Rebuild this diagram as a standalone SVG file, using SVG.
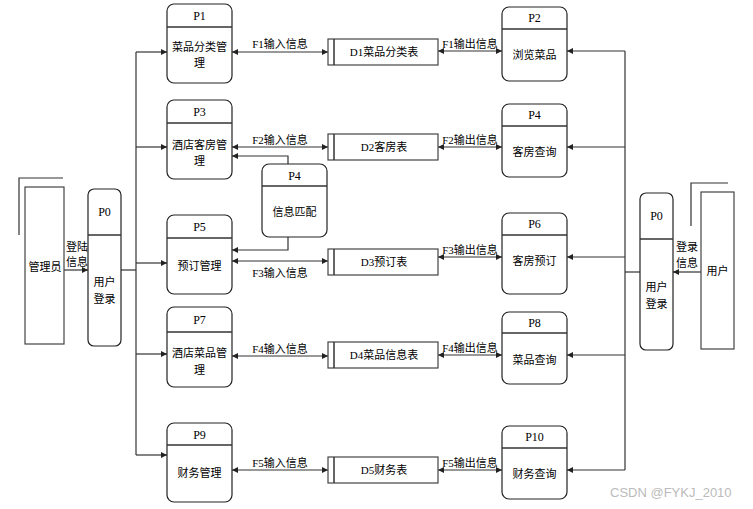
<svg xmlns="http://www.w3.org/2000/svg" width="753" height="509" viewBox="0 0 753 509">
<style>
.bg{fill:#fff}
.proc{fill:#fff;stroke:#222;stroke-width:1.2}
.div{stroke:#333;stroke-width:1.5}
.store{fill:#fff;stroke:#444;stroke-width:1.2}
.ent{fill:#fff;stroke:#444;stroke-width:1.2}
.ln{fill:none;stroke:#333;stroke-width:1.2}
.t{font-family:"Liberation Serif","Noto Sans CJK SC",serif;font-size:11px;fill:#000;text-anchor:middle}
.h{font-family:"Liberation Serif","Noto Sans CJK SC",serif;font-size:12px;fill:#000;text-anchor:middle}
.wm{font-family:"Liberation Sans","Noto Sans",sans-serif;font-size:13px;fill:#bbb}
</style>
<defs>
<marker id="a" viewBox="0 0 6 6" refX="6" refY="3" markerWidth="6" markerHeight="6" markerUnits="userSpaceOnUse" orient="auto-start-reverse"><path d="M0,0 L6,3 L0,6 Z" fill="#222"/></marker>
</defs>
<rect class="bg" width="753" height="509"/>
<g id="connectors">
<line class="ln" x1="64" y1="270" x2="88" y2="270" marker-end="url(#a)"/>
<text class="t" x="77" y="251">登陆</text>
<text class="t" x="77" y="266">信息</text>
<line class="ln" x1="121" y1="270" x2="136" y2="270"/>
<line class="ln" x1="136" y1="52" x2="136" y2="455"/>
<line class="ln" x1="136" y1="52" x2="167" y2="52" marker-end="url(#a)"/>
<line class="ln" x1="136" y1="147" x2="167" y2="147" marker-end="url(#a)"/>
<line class="ln" x1="136" y1="263" x2="167" y2="263" marker-end="url(#a)"/>
<line class="ln" x1="136" y1="354" x2="167" y2="354" marker-end="url(#a)"/>
<line class="ln" x1="136" y1="455" x2="167" y2="455" marker-end="url(#a)"/>
<line class="ln" x1="232" y1="52" x2="328" y2="52" marker-start="url(#a)" marker-end="url(#a)"/>
<line class="ln" x1="232" y1="147" x2="328" y2="147" marker-start="url(#a)" marker-end="url(#a)"/>
<line class="ln" x1="232" y1="261" x2="328" y2="261" marker-start="url(#a)" marker-end="url(#a)"/>
<line class="ln" x1="232" y1="356" x2="328" y2="356" marker-start="url(#a)" marker-end="url(#a)"/>
<line class="ln" x1="232" y1="470" x2="328" y2="470" marker-start="url(#a)" marker-end="url(#a)"/>
<text class="t" x="280" y="48">F1输入信息</text>
<text class="t" x="280" y="144">F2输入信息</text>
<text class="t" x="280" y="277">F3输入信息</text>
<text class="t" x="280" y="353">F4输入信息</text>
<text class="t" x="280" y="467">F5输入信息</text>
<line class="ln" x1="438" y1="51" x2="502" y2="51" marker-start="url(#a)" marker-end="url(#a)"/>
<line class="ln" x1="438" y1="147" x2="502" y2="147" marker-start="url(#a)" marker-end="url(#a)"/>
<line class="ln" x1="438" y1="257" x2="502" y2="257" marker-start="url(#a)" marker-end="url(#a)"/>
<line class="ln" x1="438" y1="355" x2="502" y2="355" marker-start="url(#a)" marker-end="url(#a)"/>
<line class="ln" x1="438" y1="470" x2="502" y2="470" marker-start="url(#a)" marker-end="url(#a)"/>
<text class="t" x="470" y="48">F1输出信息</text>
<text class="t" x="470" y="144">F2输出信息</text>
<text class="t" x="470" y="254">F3输出信息</text>
<text class="t" x="470" y="352">F4输出信息</text>
<text class="t" x="470" y="467">F5输出信息</text>
<path class="ln" d="M288,164 V156 H232" marker-end="url(#a)"/>
<path class="ln" d="M288,237 V250 H232" marker-end="url(#a)"/>
<line class="ln" x1="625" y1="51" x2="625" y2="470"/>
<line class="ln" x1="625" y1="51" x2="567" y2="51" marker-end="url(#a)"/>
<line class="ln" x1="625" y1="147" x2="567" y2="147" marker-end="url(#a)"/>
<line class="ln" x1="625" y1="257" x2="567" y2="257" marker-end="url(#a)"/>
<line class="ln" x1="625" y1="355" x2="567" y2="355" marker-end="url(#a)"/>
<line class="ln" x1="625" y1="470" x2="567" y2="470" marker-end="url(#a)"/>
<line class="ln" x1="625" y1="272" x2="640" y2="272"/>
<line class="ln" x1="701" y1="272" x2="673" y2="272" marker-end="url(#a)"/>
<text class="t" x="687" y="251">登录</text>
<text class="t" x="687" y="267">信息</text>
</g>
<g id="admin">
<path class="ln" d="M19,235 V178 H63"/>
<rect class="ent" x="25" y="187" width="39" height="157"/>
<text class="t" x="45" y="271">管理员</text>
</g>
<g id="P0-left">
<rect class="proc" x="88" y="189" width="33" height="157" rx="6"/>
<line class="div" x1="88" y1="235" x2="121" y2="235"/>
<text class="h" x="104.5" y="216">P0</text>
<text class="t" x="104.5" y="286">用户</text>
<text class="t" x="104.5" y="303">登录</text>
</g>
<g id="P1">
<rect class="proc" x="167" y="4" width="65" height="79" rx="7"/>
<line class="div" x1="167" y1="27" x2="232" y2="27"/>
<text class="h" x="199.5" y="20">P1</text>
<text class="t" x="199.5" y="51">菜品分类管</text>
<text class="t" x="199.5" y="67">理</text>
</g>
<g id="P3">
<rect class="proc" x="167" y="100" width="65" height="79" rx="7"/>
<line class="div" x1="167" y1="123" x2="232" y2="123"/>
<text class="h" x="199.5" y="116">P3</text>
<text class="t" x="199.5" y="149">酒店客房管</text>
<text class="t" x="199.5" y="165">理</text>
</g>
<g id="P4-mid">
<rect class="proc" x="262" y="164" width="65" height="73" rx="7"/>
<line class="div" x1="262" y1="186" x2="327" y2="186"/>
<text class="h" x="294.5" y="180">P4</text>
<text class="t" x="294.5" y="216">信息匹配</text>
</g>
<g id="P5">
<rect class="proc" x="167" y="215" width="65" height="79" rx="7"/>
<line class="div" x1="167" y1="238" x2="232" y2="238"/>
<text class="h" x="199.5" y="231">P5</text>
<text class="t" x="199.5" y="270">预订管理</text>
</g>
<g id="P7">
<rect class="proc" x="167" y="307" width="65" height="80" rx="7"/>
<line class="div" x1="167" y1="332" x2="232" y2="332"/>
<text class="h" x="199.5" y="324">P7</text>
<text class="t" x="199.5" y="357">酒店菜品管</text>
<text class="t" x="199.5" y="374">理</text>
</g>
<g id="P9">
<rect class="proc" x="167" y="423" width="65" height="79" rx="7"/>
<line class="div" x1="167" y1="445" x2="232" y2="445"/>
<text class="h" x="199.5" y="439">P9</text>
<text class="t" x="199.5" y="477">财务管理</text>
</g>
<g id="D1">
<rect class="store" x="328" y="39" width="110" height="26"/>
<line class="div" x1="334" y1="39" x2="334" y2="65"/>
<text class="t" x="384" y="56">D1菜品分类表</text>
</g>
<g id="D2">
<rect class="store" x="328" y="134" width="110" height="26"/>
<line class="div" x1="334" y1="134" x2="334" y2="160"/>
<text class="t" x="384" y="151">D2客房表</text>
</g>
<g id="D3">
<rect class="store" x="328" y="249" width="110" height="26"/>
<line class="div" x1="334" y1="249" x2="334" y2="275"/>
<text class="t" x="384" y="266">D3预订表</text>
</g>
<g id="D4">
<rect class="store" x="328" y="342" width="110" height="26"/>
<line class="div" x1="334" y1="342" x2="334" y2="368"/>
<text class="t" x="384" y="359">D4菜品信息表</text>
</g>
<g id="D5">
<rect class="store" x="328" y="457" width="110" height="26"/>
<line class="div" x1="334" y1="457" x2="334" y2="483"/>
<text class="t" x="384" y="474">D5财务表</text>
</g>
<g id="P2">
<rect class="proc" x="502" y="7" width="65" height="74" rx="7"/>
<line class="div" x1="502" y1="29" x2="567" y2="29"/>
<text class="h" x="534.5" y="22">P2</text>
<text class="t" x="534.5" y="59">浏览菜品</text>
</g>
<g id="P4">
<rect class="proc" x="502" y="104" width="65" height="73" rx="7"/>
<line class="div" x1="502" y1="126" x2="567" y2="126"/>
<text class="h" x="534.5" y="119">P4</text>
<text class="t" x="534.5" y="156">客房查询</text>
</g>
<g id="P6">
<rect class="proc" x="502" y="213" width="65" height="81" rx="7"/>
<line class="div" x1="502" y1="235" x2="567" y2="235"/>
<text class="h" x="534.5" y="228">P6</text>
<text class="t" x="534.5" y="265">客房预订</text>
</g>
<g id="P8">
<rect class="proc" x="502" y="312" width="65" height="72" rx="7"/>
<line class="div" x1="502" y1="333" x2="567" y2="333"/>
<text class="h" x="534.5" y="327">P8</text>
<text class="t" x="534.5" y="364">菜品查询</text>
</g>
<g id="P10">
<rect class="proc" x="502" y="426" width="65" height="73" rx="7"/>
<line class="div" x1="502" y1="448" x2="567" y2="448"/>
<text class="h" x="534.5" y="441">P10</text>
<text class="t" x="534.5" y="478">财务查询</text>
</g>
<g id="P0-right">
<rect class="proc" x="640" y="193" width="33" height="157" rx="6"/>
<line class="div" x1="640" y1="239" x2="673" y2="239"/>
<text class="h" x="656.5" y="220">P0</text>
<text class="t" x="656.5" y="291">用户</text>
<text class="t" x="656.5" y="308">登录</text>
</g>
<g id="user">
<path class="ln" d="M691,226 V183 H728"/>
<rect class="ent" x="701" y="192" width="33" height="157"/>
<text class="t" x="717.5" y="275">用户</text>
</g>
<text class="wm" x="610" y="497">CSDN @FYKJ_2010</text>
</svg>
